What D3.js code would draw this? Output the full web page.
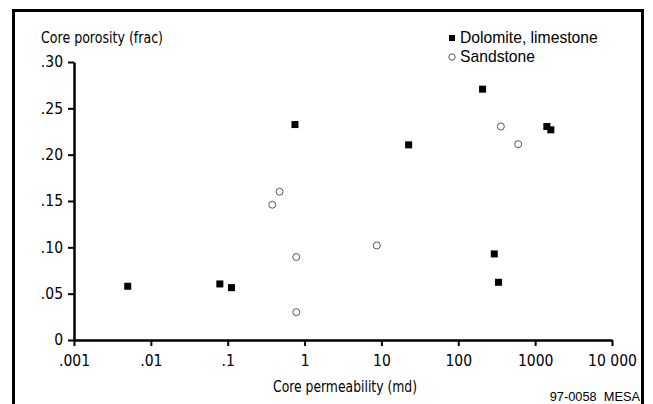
<!DOCTYPE html>
<html><head><meta charset="utf-8">
<script src="https://cdn.jsdelivr.net/npm/d3@7"></script>
<style>
html,body{margin:0;padding:0;background:#fff;}
svg{display:block;}
.cond{font-family:"Liberation Sans Narrow","DejaVu Sans Condensed","Arial Narrow",sans-serif;}
.reg{font-family:"Liberation Sans",Arial,sans-serif;}
</style>
</head><body>
<script>
const dolomitePerm = [0.005, 0.079, 0.112, 0.75, 22.6, 207, 1420, 1600, 294, 334];
const dolomitePor  = [0.058, 0.0605, 0.0565, 0.2325, 0.2106, 0.2707, 0.2304, 0.2268, 0.0929, 0.0623];
const sandPerm = [0.473, 0.38, 0.78, 0.78, 8.7, 358, 601];
const sandPor  = [0.160, 0.146, 0.0896, 0.030, 0.102, 0.2304, 0.2113];
const xTickValues = [0.001, 0.01, 0.1, 1, 10, 100, 1000, 10000];
const xTickLabels = [".001", ".01", ".1", "1", "10", "100", "1000", "10 000"];
const yTickValues = [0, 0.05, 0.10, 0.15, 0.20, 0.25, 0.30];
const yTickLabels = ["0", ".05", ".10", ".15", ".20", ".25", ".30"];
const seriesNames = ["Dolomite, limestone", "Sandstone"];

const W = 653, H = 404;
const svg = d3.select("body").append("svg").attr("width", W).attr("height", H);

// frame
svg.append("path").attr("d", `M13.5,420 L13.5,10.5 L642.5,10.5 L642.5,420`)
  .attr("fill", "none").attr("stroke", "#000").attr("stroke-width", 3);

const x = d3.scaleLog().domain([0.001, 10000]).range([74, 612]);
const y = d3.scaleLinear().domain([0, 0.30]).range([340, 62]);

const xAxis = d3.axisBottom(x).tickValues(xTickValues)
  .tickFormat((d, i) => xTickLabels[i]).tickSize(6).tickSizeOuter(0).tickPadding(8);
const yAxis = d3.axisLeft(y).tickValues(yTickValues)
  .tickFormat((d, i) => yTickLabels[i]).tickSize(6).tickSizeOuter(0).tickPadding(5);

const gx = svg.append("g").attr("transform", "translate(0,340)").call(xAxis);
const gy = svg.append("g").attr("transform", "translate(74,0)").call(yAxis);
[gx, gy].forEach(g => {
  g.select(".domain").attr("stroke", "#000").attr("stroke-width", 2.5);
  g.selectAll(".tick line").attr("stroke", "#000").attr("stroke-width", 2);
  g.selectAll(".tick text").attr("class", "cond").attr("font-size", 15.5).attr("fill", "#000");
});
gx.selectAll(".tick text").attr("dy", "0.8em");

// axis titles
svg.append("text").attr("class", "cond").attr("x", 41).attr("y", 43)
  .attr("font-size", 16.5).attr("textLength", 122).attr("lengthAdjust", "spacingAndGlyphs")
  .text("Core porosity (frac)");
svg.append("text").attr("class", "cond").attr("x", 273).attr("y", 392)
  .attr("font-size", 16.5).attr("textLength", 144).attr("lengthAdjust", "spacingAndGlyphs")
  .text("Core permeability (md)");

// data
const dol = dolomitePerm.map((p, i) => ({p, v: dolomitePor[i]}));
const san = sandPerm.map((p, i) => ({p, v: sandPor[i]}));
const s = 7;
svg.append("g").selectAll("rect").data(dol).join("rect")
  .attr("x", d => x(d.p) - s / 2).attr("y", d => y(d.v) - s / 2)
  .attr("width", s).attr("height", s).attr("fill", "#000");
svg.append("g").selectAll("circle").data(san).join("circle")
  .attr("cx", d => x(d.p)).attr("cy", d => y(d.v)).attr("r", 3.5)
  .attr("fill", "#fff").attr("stroke", "#555").attr("stroke-width", 1);

// legend
const lg = svg.append("g");
lg.append("rect").attr("x", 449).attr("y", 35).attr("width", 6).attr("height", 6).attr("fill", "#000");
lg.append("circle").attr("cx", 452).attr("cy", 57).attr("r", 3.2).attr("fill", "#fff").attr("stroke", "#555");
lg.append("text").attr("class", "reg").attr("x", 460).attr("y", 43).attr("font-size", 15.7).text(seriesNames[0]);
lg.append("text").attr("class", "reg").attr("x", 460).attr("y", 62).attr("font-size", 15.7).text(seriesNames[1]);

// code
svg.append("text").attr("class", "reg").attr("x", 640).attr("y", 401)
  .attr("text-anchor", "end").attr("font-size", 12.8).style("white-space", "pre").text("97-0058  MESA");
</script>
</body></html>
